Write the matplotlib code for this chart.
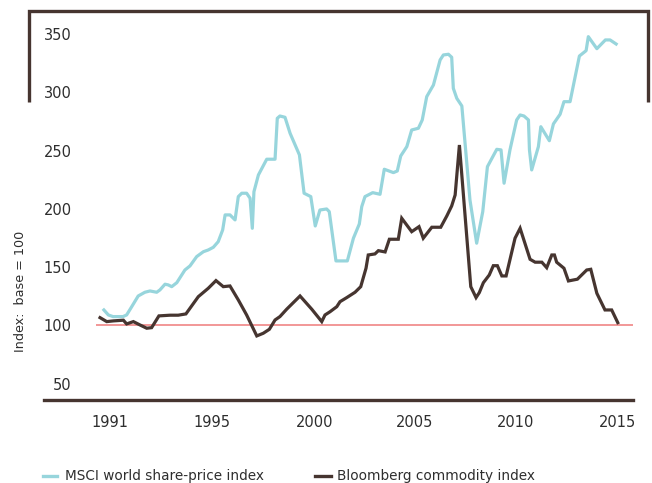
import matplotlib
matplotlib.use("Agg")
import matplotlib.pyplot as plt
from matplotlib.lines import Line2D

# ── data ──
msci_year = [1989.70, 1989.92, 1990.15, 1990.64, 1990.82, 1991.07, 1991.39, 1991.72, 1991.97, 1992.30,
             1992.46, 1992.71, 1992.87, 1993.04, 1993.29, 1993.69, 1993.94, 1994.27, 1994.60, 1994.84,
             1995.09, 1995.33, 1995.55, 1995.67, 1995.91, 1996.16, 1996.32, 1996.49, 1996.73, 1996.90,
             1997.01, 1997.09, 1997.31, 1997.72, 1998.13, 1998.24, 1998.37, 1998.62, 1998.87, 1999.33,
             1999.56, 1999.89, 2000.11, 2000.34, 2000.67, 2000.80, 2001.13, 2001.69, 2001.99, 2002.28,
             2002.40, 2002.56, 2002.94, 2003.30, 2003.51, 2003.96, 2004.15, 2004.32, 2004.62, 2004.86,
             2005.19, 2005.38, 2005.60, 2005.93, 2006.26, 2006.42, 2006.67, 2006.83, 2006.91, 2007.08,
             2007.33, 2007.73, 2008.06, 2008.36, 2008.59, 2009.05, 2009.26, 2009.41, 2009.70, 2010.03,
             2010.20, 2010.39, 2010.61, 2010.66, 2010.77, 2011.10, 2011.22, 2011.64, 2011.84, 2012.17,
             2012.36, 2012.66, 2013.12, 2013.45, 2013.56, 2013.98, 2014.40, 2014.63, 2014.93]
msci_val = [113.3, 109.0, 107.6, 107.6, 109.0, 116.1, 125.3, 128.5, 129.6, 128.5,
            130.5, 135.4, 134.8, 133.3, 136.7, 147.6, 151.1, 159.1, 163.3, 164.8,
            167.1, 171.9, 182.0, 194.9, 194.9, 190.6, 210.6, 213.5, 213.5, 209.2,
            183.4, 214.8, 229.2, 242.7, 242.7, 277.8, 279.8, 278.7, 265.0, 246.4,
            213.5, 210.6, 185.4, 199.1, 200.0, 197.7, 155.4, 155.4, 174.9, 187.1,
            202.0, 210.6, 214.0, 212.6, 234.1, 231.2, 232.6, 245.5, 253.5, 267.8,
            269.3, 276.4, 296.4, 306.4, 327.9, 332.2, 332.8, 330.2, 303.6, 295.0,
            288.4, 207.7, 170.6, 197.7, 236.3, 251.2, 250.7, 222.1, 250.7, 276.4,
            280.7, 279.8, 276.4, 250.7, 233.5, 253.5, 270.6, 258.6, 273.0, 281.3,
            292.1, 292.1, 331.3, 335.9, 347.9, 337.6, 345.1, 345.1, 341.6]

comm_year = [1989.51, 1989.84, 1990.16, 1990.66, 1990.82, 1991.15, 1991.48, 1991.81, 1992.05, 1992.41,
             1992.96, 1993.36, 1993.74, 1994.35, 1994.84, 1995.22, 1995.58, 1995.91, 1996.32, 1996.73,
             1997.23, 1997.55, 1997.85, 1998.13, 1998.37, 1998.70, 1999.36, 1999.94, 2000.43, 2000.59,
             2000.84, 2001.17, 2001.33, 2001.66, 2002.07, 2002.35, 2002.61, 2002.72, 2003.05, 2003.22,
             2003.55, 2003.76, 2004.20, 2004.37, 2004.86, 2005.22, 2005.43, 2005.85, 2006.29, 2006.59,
             2006.83, 2007.00, 2007.21, 2007.77, 2008.03, 2008.19, 2008.39, 2008.68, 2008.88, 2009.08,
             2009.30, 2009.51, 2009.95, 2010.20, 2010.69, 2010.94, 2011.27, 2011.51, 2011.76, 2011.89,
             2012.00, 2012.36, 2012.58, 2013.02, 2013.48, 2013.68, 2013.98, 2014.38, 2014.71, 2015.01]
comm_val = [106.7, 103.3, 103.9, 104.5, 101.3, 103.3, 100.4, 97.6, 98.1, 108.2,
            108.8, 108.8, 109.9, 124.7, 131.9, 138.5, 133.3, 133.9, 121.9, 109.0,
            91.0, 93.3, 96.7, 104.7, 107.6, 113.9, 125.3, 113.9, 103.3, 109.0,
            111.8, 116.1, 120.4, 123.9, 128.5, 133.3, 149.1, 160.5, 161.4, 164.2,
            163.1, 174.0, 174.0, 192.0, 180.5, 184.8, 174.9, 184.3, 184.3, 194.0,
            202.6, 212.0, 254.9, 133.3, 123.9, 128.2, 136.7, 143.3, 151.3, 151.3,
            142.5, 142.5, 174.9, 183.4, 156.8, 154.3, 154.3, 149.6, 160.5, 160.5,
            154.3, 149.1, 138.2, 139.7, 147.6, 148.2, 127.6, 113.3, 113.3, 102.4]

base_value = 100
y_ticks = [50, 100, 150, 200, 250, 300, 350]
x_ticks = [1990, 1995, 2000.1, 2005, 2010, 2015]
x_tick_labels = ['1991', '1995', '2000', '2005', '2010', '2015']
series_names = ['MSCI world share-price index', 'Bloomberg commodity index']

CYAN  = '#97d5dc'
BROWN = '#463530'
RED   = '#ef7b7b'
TXT   = '#2e2e2e'

plt.rcParams['font.family'] = ['DejaVu Sans']

W, H = 652, 483
fig = plt.figure(figsize=(W/100, H/100), dpi=100)
ax = fig.add_axes([44/W, 1 - 400/H, (633-44)/W, (400-10)/H])

ax.hlines(base_value, 1989.3, 2015.76, color=RED, lw=1.1, zorder=1)
ax.plot(msci_year, msci_val, color=CYAN, lw=2.3, solid_joinstyle='round', zorder=2)
ax.plot(comm_year, comm_val, color=BROWN, lw=2.3, solid_joinstyle='miter', zorder=3)

ax.set_xlim(1986.75, 2015.76)
ax.set_ylim(36.0, 370.8)

for s in ['top', 'left', 'right']:
    ax.spines[s].set_visible(False)
ax.spines['bottom'].set_color(BROWN)
ax.spines['bottom'].set_linewidth(2.4)

ax.set_yticks(y_ticks)
ax.set_yticklabels([str(v) for v in y_ticks])
ax.set_xticks(x_ticks)
ax.set_xticklabels(x_tick_labels)
ax.tick_params(axis='y', length=0, pad=-20, labelsize=10.5, labelcolor=TXT)
ax.tick_params(axis='x', length=0, pad=11, labelsize=10.5, labelcolor=TXT)

# frame bracket at the top
bracket = Line2D([28.7/W, 28.7/W, 648/W, 648/W],
                 [1 - 102/H, 1 - 11/H, 1 - 11/H, 1 - 102/H],
                 transform=fig.transFigure, color=BROWN, lw=2.4,
                 solid_joinstyle='miter', solid_capstyle='butt')
fig.add_artist(bracket)

fig.text(21/W, 1 - 291/H, 'Index:  base = 100', rotation=90, ha='center', va='center',
         fontsize=9.2, color=TXT)

# legend
ly = 1 - 476/H
fig.add_artist(Line2D([43/W, 57/W], [ly, ly], transform=fig.transFigure, color=CYAN, lw=2.4))
fig.text(65/W, ly, series_names[0], ha='left', va='center', fontsize=9.8, color=TXT)
fig.add_artist(Line2D([315/W, 331/W], [ly, ly], transform=fig.transFigure, color=BROWN, lw=2.4))
fig.text(337/W, ly, series_names[1], ha='left', va='center', fontsize=9.8, color=TXT)

fig.savefig('out.png', dpi=100)
